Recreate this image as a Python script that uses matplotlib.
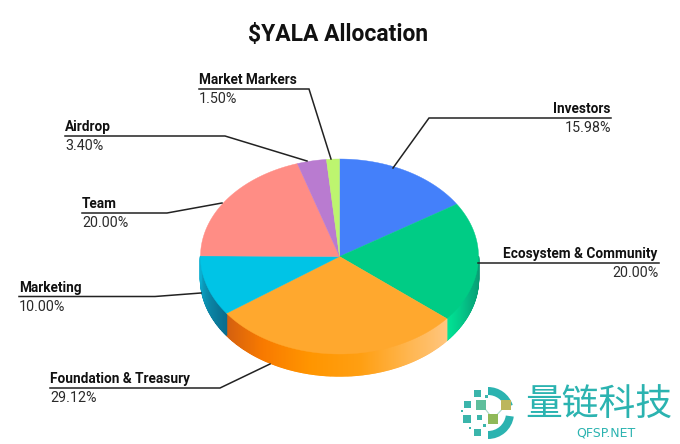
import numpy as np
import matplotlib
matplotlib.use('Agg')
import matplotlib.pyplot as plt
from matplotlib.colors import to_rgb
from matplotlib.patches import Polygon, Rectangle, Wedge

plt.rcParams['font.family'] = ['Roboto', 'DejaVu Sans']

# chart data, clockwise from 12 o'clock
categories = ['Investors', 'Ecosystem & Community', 'Foundation & Treasury', 'Marketing',
              'Team', 'Airdrop', 'Market Markers']
shares = [15.98, 20.00, 29.12, 10.00, 20.00, 3.40, 1.50]
percent_labels = ['15.98%', '20.00%', '29.12%', '10.00%', '20.00%', '3.40%', '1.50%']

colors = ['#4480fa', '#00cc85', '#ffa82e', '#00c4e6', '#ff8d85', '#b97bd0', '#bdf56f']

# side wall shading, from the start of each slice to its end
wall_shades = {
    1: ['#0a9670', '#06b07e', '#00e595'],
    2: ['#ffc680', '#ffb650', '#ff9f12', '#ff9500', '#f87a00', '#d35f10'],
    3: ['#0a6c8d', '#0b8aaa', '#0bb0d2'],
}

# leader line (x, y) in image pixels, label end first
leaders = [
    [(611, 118), (429, 118), (393, 168)],
    [(659, 263), (478, 263)],
    [(50, 388), (220, 388), (270, 364)],
    [(19, 296.5), (155, 296.5), (201, 293)],
    [(82, 213), (167, 213), (222, 203)],
    [(65, 136), (225, 136), (307, 161)],
    [(199, 89), (309, 89), (331, 159)],
]
right_aligned = [True, True, False, False, False, False, False]

cx, cy = 339.5, 256.5
rx, ry = 139, 97.5
depth = 22


def rim(deg):
    a = np.radians(deg)
    return cx + rx * np.sin(a), cy - ry * np.cos(a)


fig = plt.figure(figsize=(6.8, 4.44), dpi=100)
ax = fig.add_axes([0, 0, 1, 1])
ax.set_xlim(0, 680)
ax.set_ylim(444, 0)
ax.axis('off')

edges = np.concatenate([[0], np.cumsum(shares)]) * 3.6

# side wall, only the front half is visible
for i, shades in wall_shades.items():
    start, end = max(edges[i], 90), min(edges[i + 1], 270)
    rgb = np.array([to_rgb(c) for c in shades])
    stops = np.linspace(0, 1, len(shades))
    steps = np.linspace(start, end, int(end - start) * 2 + 2)
    for d0, d1 in zip(steps[:-1], steps[1:]):
        t = (d0 - start) / (end - start)
        col = [np.interp(t, stops, rgb[:, k]) for k in range(3)]
        x0, y0 = rim(d0)
        x1, y1 = rim(d1)
        ax.add_patch(Polygon([(x0, y0), (x1, y1), (x1, y1 + depth), (x0, y0 + depth)],
                             facecolor=col, edgecolor=col, lw=1.0, zorder=2))

# top face
for i, col in enumerate(colors):
    degs = np.linspace(edges[i], edges[i + 1], 80)
    pts = [(cx, cy)] + [rim(d) for d in degs]
    ax.add_patch(Polygon(pts, facecolor=col, edgecolor=col, lw=0.3, zorder=3))

# leaders and labels
for name, pct, line, right in zip(categories, percent_labels, leaders, right_aligned):
    xs, ys = zip(*line)
    ax.plot(xs, ys, color='#222222', lw=1.1, zorder=4, solid_joinstyle='miter')
    x = xs[0]
    y = ys[0]
    ha = 'right' if right else 'left'
    if name == 'Ecosystem & Community':
        ax.text(x - 2, y - 9, name, ha=ha, va='center', fontsize=9.8, fontweight='bold', color='#111111')
    else:
        ax.text(x, y - 9, name, ha=ha, va='center', fontsize=9.8, fontweight='bold', color='#111111')
    ax.text(x, y + 10, pct, ha=ha, va='center', fontsize=10.3, color='#2a2a2a')

ax.text(338.5, 34.5, '$YALA Allocation', ha='center', va='center', fontsize=16.5, fontweight='bold', color='#111111')

# watermark logo
teal = '#2bb3b0'
ax.add_patch(Wedge((488, 413), 26, -90, -18, width=8, facecolor=teal, edgecolor='none', zorder=5))
ax.add_patch(Wedge((488, 413), 26, 8, 90, width=8, facecolor=teal, edgecolor='none', zorder=5))
ax.plot([486, 493, 506], [410, 419, 405], color='#a9d8c8', lw=0.8, zorder=5)
for x, y, s, c in [(477, 393, 7, '#3bb5ab'), (467, 404, 7, '#3bb5ab'), (481, 405, 10, '#5fbf9c'),
                   (506, 405, 10, '#bcb65c'), (493, 419, 10, '#8fb958'), (467, 419, 8, '#3bb5ab'),
                   (479, 417, 5, '#3bb5ab'), (477, 432, 7, '#3bb5ab'), (462, 411, 2, '#3bb5ab'),
                   (484, 425, 3, '#3bb5ab'), (470, 428, 2, '#3bb5ab'), (486, 396, 3, '#3bb5ab')]:
    ax.add_patch(Rectangle((x - s / 2, y - s / 2), s, s, facecolor=c, edgecolor='none', zorder=6))

ax.text(599, 405, '量链科技', ha='center', va='center', fontsize=26.5, color=teal,
        family=['Noto Sans CJK SC', 'DejaVu Sans'])
ax.text(606, 433, 'QFSP.NET', ha='center', va='center', fontsize=9, color=teal, family='DejaVu Sans')

fig.savefig('out.png', dpi=100)
